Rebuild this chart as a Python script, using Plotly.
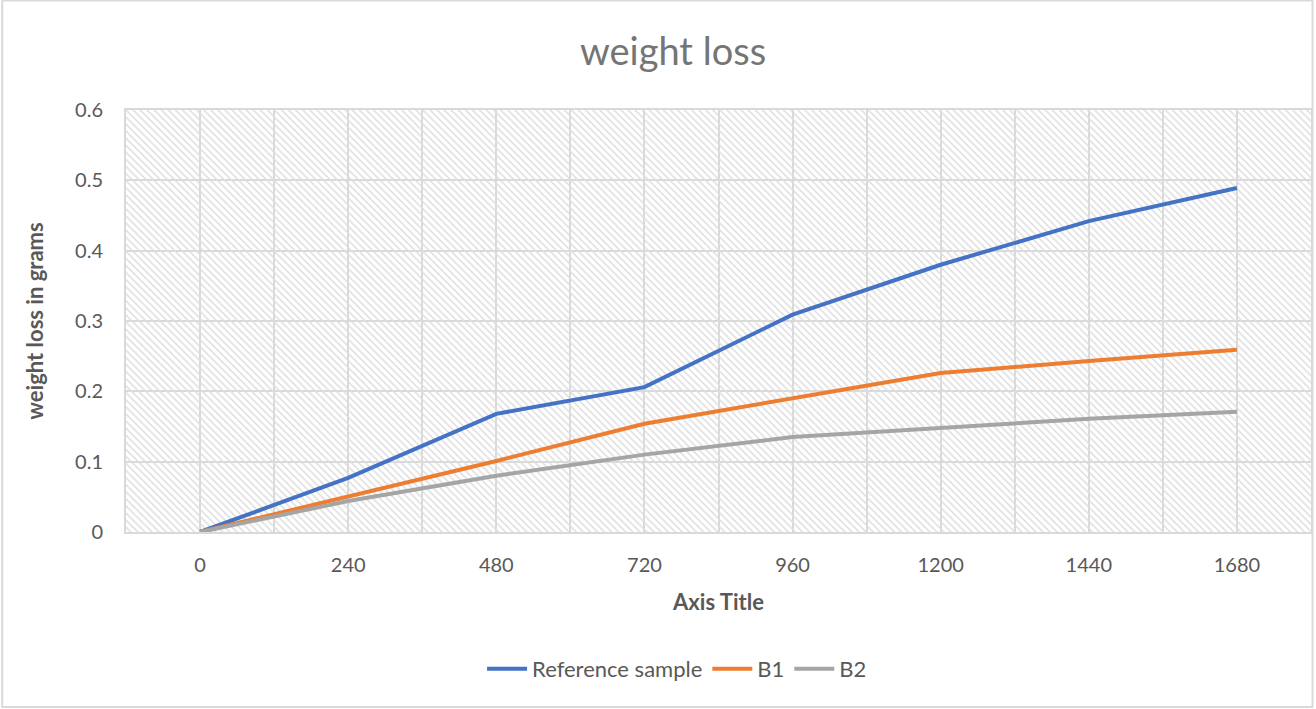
import plotly.graph_objects as go

# ---- data ----
categories = ["0", "240", "480", "720", "960", "1200", "1440", "1680"]
reference_sample = [0.0, 0.077, 0.168, 0.206, 0.309, 0.380, 0.442, 0.489]
b1 = [0.0, 0.050, 0.101, 0.154, 0.190, 0.226, 0.243, 0.259]
b2 = [0.0, 0.044, 0.080, 0.110, 0.135, 0.148, 0.161, 0.171]
y_ticks = [0, 0.1, 0.2, 0.3, 0.4, 0.5, 0.6]
y_tick_labels = ["0", "0.1", "0.2", "0.3", "0.4", "0.5", "0.6"]

# ---- layout geometry ----
W, H = 1316, 709
L, R, T, B = 126, 3, 110, 177
PW, PH = W - L - R, H - T - B

idx = list(range(len(categories)))
x_range = [-0.5, len(categories) - 0.5]
y_range = [y_ticks[0], y_ticks[-1]]

TEXT = "#595959"
GRID = "#d9d9d9"
FONT = "Lato, 'Open Sans', sans-serif"

fig = go.Figure()

# textured plot-area background (pattern fill spanning axis ranges)
fig.add_trace(go.Scatter(
    x=[x_range[0], x_range[1], x_range[1], x_range[0], x_range[0]],
    y=[y_range[0], y_range[0], y_range[1], y_range[1], y_range[0]],
    mode="none", fill="toself", fillcolor="rgba(0,0,0,0)",
    fillpattern=dict(shape="\\", fgcolor="#dedede", bgcolor="rgba(0,0,0,0)",
                     size=5, solidity=0.3, fgopacity=1),
    showlegend=False, hoverinfo="skip",
))

series = [("Reference sample", reference_sample, "#4472C4"),
          ("B1", b1, "#ED7D31"),
          ("B2", b2, "#A5A5A5")]
for name, vals, col in series:
    fig.add_trace(go.Scatter(x=idx, y=vals, name=name, mode="lines",
                             line=dict(color=col, width=4)))

fig.update_layout(
    width=W, height=H,
    margin=dict(l=L, r=R, t=T, b=B),
    paper_bgcolor="white", plot_bgcolor="white",
    font=dict(family=FONT, color=TEXT, size=20),
    title=dict(text="weight loss", x=673 / W, xanchor="center",
               y=1 - 52 / H, yanchor="middle",
               font=dict(size=38, color="#757575", family=FONT)),
    showlegend=True,
    legend=dict(orientation="h", x=(678 - L) / PW, xanchor="center",
                y=-(669 - (H - B)) / PH, yanchor="middle",
                font=dict(size=22, color=TEXT), itemwidth=40,
                traceorder="normal"),
    xaxis=dict(range=x_range, tickmode="array", tickvals=idx, ticktext=categories,
               showgrid=True, gridcolor=GRID, gridwidth=2,
               minor=dict(tickmode="linear", tick0=-0.5, dtick=1, showgrid=True,
                          gridcolor=GRID, gridwidth=2),
               showline=True, mirror=True, linecolor=GRID, linewidth=2,
               zeroline=False, ticks="", ticklabelstandoff=14,
               tickfont=dict(size=20),
               title=dict(text="<b>Axis Title</b>", standoff=20,
                          font=dict(size=22, color=TEXT))),
    yaxis=dict(range=y_range, tickmode="array", tickvals=y_ticks, ticktext=y_tick_labels,
               showgrid=True, gridcolor=GRID, gridwidth=2,
               showline=True, mirror=True, linecolor=GRID, linewidth=2,
               zeroline=False, ticks="", ticklabelstandoff=17,
               tickfont=dict(size=20),
               title=dict(text="<b>weight loss in grams</b>", standoff=25,
                          font=dict(size=22, color=TEXT))),
    shapes=[dict(type="rect", xref="paper", yref="paper",
                 x0=-(L - 2) / PW, x1=(PW + R - 1.5) / PW,
                 y0=-(B - 2) / PH, y1=(PH + T - 0.5) / PH,
                 line=dict(color="#d9d9d9", width=2), fillcolor="rgba(0,0,0,0)",
                 layer="below")],
)

fig.write_html("out.html")
